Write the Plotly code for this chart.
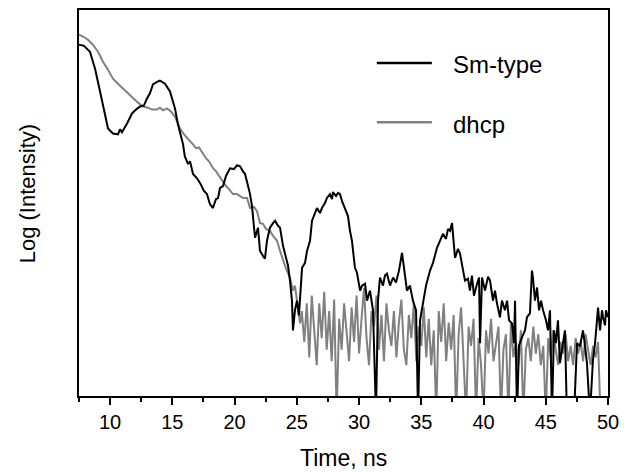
import plotly.graph_objects as go

# Sm-type (black) trace, log intensity in arbitrary units (0 = bottom of frame, 100 = top)
SM_TIME = [
    7.5, 7.9, 8.38, 8.79, 9.19, 9.59, 9.83, 10.23, 10.63, 10.8, 10.95, 11.36, 11.76, 12.08,
    12.4, 12.72, 12.96, 13.2, 13.44, 13.77, 14.0, 14.41, 14.81, 15.21, 15.45, 15.86, 16.0,
    16.26, 16.42, 16.66, 16.98, 17.22, 17.54, 17.78, 18.02, 18.26, 18.5, 18.67, 18.83, 19.07,
    19.31, 19.63, 19.95, 20.2, 20.44, 20.68, 20.84, 21.08, 21.24, 21.4, 21.64, 21.88, 22.04,
    22.28, 22.44, 22.6, 22.84, 23.09, 23.25, 23.49, 23.65, 23.89, 24.05, 24.29, 24.45, 24.61,
    24.69, 24.85, 25.01, 25.17, 25.42, 25.66, 25.82, 26.06, 26.22, 26.46, 26.62, 26.86, 27.02,
    27.26, 27.42, 27.66, 27.83, 27.9, 28.15, 28.31, 28.47, 28.63, 28.87, 29.11, 29.27, 29.43,
    29.67, 29.83, 30.08, 30.24, 30.48, 30.64, 30.88, 31.12, 31.36, 31.52, 31.68, 31.92, 32.08,
    32.24, 32.49, 32.73, 32.97, 33.21, 33.45, 33.69, 33.85, 34.09, 34.33, 34.58, 34.74, 34.9,
    35.14, 35.38, 35.7, 35.94, 36.26, 36.5, 36.74, 36.98, 37.15, 37.31, 37.47, 37.71, 37.95,
    38.11, 38.35, 38.51, 38.75, 38.91, 39.07, 39.23, 39.48, 39.64, 39.72, 39.88, 40.12, 40.36,
    40.52, 40.76, 40.92, 41.08, 41.32, 41.48, 41.72, 41.89, 42.05, 42.29, 42.45, 42.53, 42.69,
    42.85, 43.09, 43.33, 43.49, 43.73, 43.89, 43.97, 44.13, 44.3, 44.46, 44.62, 44.78, 45.02,
    45.18, 45.34, 45.5, 45.66, 45.82, 45.98, 46.14, 46.38, 46.54, 46.7, 46.95, 47.27, 47.51,
    47.75, 47.99, 48.15, 48.31, 48.55, 48.79, 48.96, 49.12, 49.2, 49.36, 49.52, 49.6, 49.76,
    49.84, 50.0,
]
SM_LOGI = [
    91.0, 90.7, 89.2, 84.8, 78.9, 72.9, 69.3, 68.0, 67.8, 69.1, 68.3, 70.6, 73.2, 74.2,
    75.0, 75.3, 77.1, 78.4, 80.7, 81.4, 81.7, 80.9, 78.9, 74.5, 70.4, 65.2, 62.1,
    60.1, 60.8, 57.5, 56.4, 55.2, 53.1, 52.3, 49.7, 48.7, 51.0, 51.3, 53.9, 54.4,
    57.0, 59.0, 58.8, 59.8, 59.5, 58.2, 57.5, 54.4, 52.3, 49.2, 41.0, 43.6, 37.6,
    36.3, 35.6, 40.2, 43.6, 44.8, 45.4, 44.1, 43.6, 38.9, 36.9, 33.8, 29.9, 24.7,
    17.0, 22.2, 24.7, 20.9, 33.2, 34.5, 37.6, 40.2, 45.4, 47.4, 48.7, 47.4, 48.7,
    50.0, 51.3, 52.3, 51.0, 52.8, 51.8, 52.6, 52.3, 50.5, 48.7, 46.6, 42.8, 40.2,
    33.2, 32.0, 27.3, 28.6, 29.1, 24.7, 27.3, 22.2, -5.0, 24.7, 30.7, 28.6, 31.2,
    31.7, 28.6, 30.7, 29.4, 32.5, 37.1, 31.2, 27.3, 28.6, 24.7, 22.2, -5.0, 19.6,
    24.0, 28.6, 32.5, 34.5, 38.4, 40.2, 42.0, 40.7, 43.3, 42.8, 44.8, 35.8, 38.1,
    36.9, 32.5, 29.9, 30.4, 27.3, 31.2, 26.0, 29.1, 30.7, 13.7, 30.7, 27.3, 30.9,
    29.9, 24.7, 27.3, 24.0, 20.4, 24.7, 22.2, 24.7, 19.6, 18.8, 13.7, 24.7, -5.0,
    13.1, 15.2, 17.0, 20.4, 21.4, 32.5, 30.7, 24.7, 28.1, 22.2, 24.7, 22.2, 19.6,
    17.0, 22.2, -5.0, 17.0, 13.7, 19.6, 8.5, 13.7, 17.0, -5.0, None, -5.0, 13.7,
    12.9, 17.0, 13.1, 8.5, -5.0, 9.3, 13.7, 19.6, 22.9, 17.0, 22.2, 20.4, 18.3,
    22.2, 20.4,
]

# dhcp (grey) trace
DHCP_TIME = [
    7.5, 7.9, 8.22, 8.62, 9.03, 9.43, 9.83, 10.23, 10.63, 11.04, 11.44, 11.84, 12.24, 12.64,
    13.04, 13.36, 13.77, 14.0, 14.25, 14.57, 14.89, 15.21, 15.45, 15.61, 15.94, 16.18, 16.42,
    16.66, 16.9, 17.14, 17.46, 17.7, 17.94, 18.27, 18.51, 18.75, 19.07, 19.31, 19.55, 19.87,
    20.19, 20.44, 20.68, 21.0, 21.24, 21.56, 21.8, 22.04, 22.28, 22.52, 22.84, 23.09, 23.41,
    23.65, 23.89, 24.13, 24.45, 24.69, 24.85, 25.01, 25.26,
    25.4, 25.6, 25.8, 26.0, 26.2, 26.4, 26.6, 26.8, 27.0, 27.2, 27.4, 27.6, 27.8, 28.0,
    28.2, 28.4, 28.6, 28.8, 29.0, 29.2, 29.4, 29.6, 29.8, 30.0, 30.2, 30.4, 30.6, 30.8,
    31.0, 31.2, 31.4, 31.6, 31.8, 32.0, 32.2, 32.4, 32.6, 32.8, 33.0, 33.2, 33.4, 33.6,
    33.8, 34.0, 34.2, 34.4, 34.6, 34.8, 35.0, 35.2, 35.4, 35.6, 35.8, 36.0, 36.2, 36.4,
    36.6, 36.8, 37.0, 37.2, 37.4, 37.6, 37.8, 38.0, 38.2, 38.4, 38.6, 38.8, 39.0, 39.2,
    39.4, 39.6, 39.8, 40.0, 40.2, 40.4, 40.6, 40.8, 41.0, 41.2, 41.4, 41.6, 41.8, 42.0,
    42.2, 42.4, 42.6, 42.8, 43.0, 43.2, 43.4, 43.6, 43.8, 44.0, 44.2, 44.4, 44.6, 44.8,
    45.0, 45.2, 45.4, 45.6, 45.8, 46.0, 46.2, 46.4, 46.6, 46.8, 47.0, 47.2, 47.4, 47.6,
    47.8, 48.0, 48.2, 48.4, 48.6, 48.8, 49.0, 49.2, 49.4,
]
DHCP_LOGI = [
    93.6, 93.0, 92.3, 91.0, 89.2, 86.6, 84.5, 82.2, 80.9, 79.6, 78.4, 77.1, 76.0, 75.0,
    74.7, 74.2, 74.2, 74.7, 74.0, 74.5, 73.7, 72.4, 70.6, 69.3, 67.8, 66.8, 66.0,
    65.2, 64.2, 64.4, 62.6, 61.6, 60.8, 59.0, 58.2, 57.0, 55.7, 54.4, 53.6, 52.3,
    52.3, 51.8, 51.3, 51.3, 48.7, 49.0, 47.9, 44.8, 44.6, 43.3, 42.8, 41.5, 40.2,
    37.6, 35.1, 33.0, 30.7, 27.3, 28.6, 24.7, 18.8,
    22, 14, 24, 10, 26, 18, 8, 24, 15, 27, 12, 22, 9, 25,
    -5, 20, 12, 24, 16, 9, 23, 14, 26, 11, 20, 28, 15, 8,
    22, 18, 26, 12, 21, 9, 24, 17, 13, 22, 10, 19, 25, 12,
    8, 21, 15, 24, 9, 18, 13, 23, 10, 20, 8, 17, -5, 22,
    14, 24, 9, 19, 12, 21, -5, 16, 23, 10, -5, 18, 13, 20,
    -5, 15, 8, -5, 17, 11, 20, 9, 14, 18, -5, 12, 16, -5,
    19, 10, 14, 8, 17, -5, 12, 15, 9, 18, 11, 16, 8, 13,
    -5, 15, 10, 17, 12, 8, 14, 11, 16, 9, 13, 8, 15, 11,
    14, 9, 16, 12, 8, 13, 10, 14, -5,
]

FONT = "Liberation Sans, Arial, sans-serif"

fig = go.Figure()
fig.add_trace(go.Scatter(x=DHCP_TIME, y=DHCP_LOGI, mode="lines", name="dhcp",
                         line=dict(color="#808080", width=2), connectgaps=False))
fig.add_trace(go.Scatter(x=SM_TIME, y=SM_LOGI, mode="lines", name="Sm-type",
                         line=dict(color="#000000", width=2), connectgaps=False))

# hand-drawn legend (matches the original's long line samples)
for yy, ty, label, col in [(0.863, 0.858, "Sm-type", "#000000"), (0.709, 0.703, "dhcp", "#808080")]:
    fig.add_shape(type="line", xref="paper", yref="paper", x0=0.563, x1=0.667, y0=yy, y1=yy,
                  line=dict(color=col, width=2.5))
    fig.add_annotation(xref="paper", yref="paper", x=0.703, y=ty, text=label, showarrow=False,
                       xanchor="left", yanchor="middle", font=dict(size=24, color="#000"))

# axis titles
fig.add_annotation(xref="paper", yref="paper", x=0.5, y=-0.16, text="Time, ns", showarrow=False,
                   xanchor="center", yanchor="middle", font=dict(size=23, color="#000"))
fig.add_annotation(xref="paper", yref="paper", x=-0.098, y=0.523, text="Log (Intensity)",
                   showarrow=False, textangle=-90, xanchor="center", yanchor="middle",
                   font=dict(size=22, color="#000"))

fig.update_layout(
    width=635, height=472,
    margin=dict(l=79, r=27, t=8, b=76),
    paper_bgcolor="white", plot_bgcolor="white",
    showlegend=False,
    font=dict(family=FONT, size=20, color="#000"),
)
fig.update_xaxes(
    range=[7.5, 50], tickvals=[10, 15, 20, 25, 30, 35, 40, 45, 50],
    ticks="outside", ticklen=7, tickwidth=1.5, tickcolor="#000",
    minor=dict(ticks="outside", ticklen=4, dtick=2.5, tick0=7.5, tickcolor="#000", tickwidth=1.5),
    showline=True, linecolor="#000", linewidth=1.5, mirror=True, showgrid=False, zeroline=False,
    tickfont=dict(size=20),
)
fig.update_yaxes(
    range=[0, 100], showticklabels=False, ticks="",
    showline=True, linecolor="#000", linewidth=1.5, mirror=True, showgrid=False, zeroline=False,
)

fig.write_html("out.html", config={"displayModeBar": False},
               post_script="document.body.style.margin='0';")
